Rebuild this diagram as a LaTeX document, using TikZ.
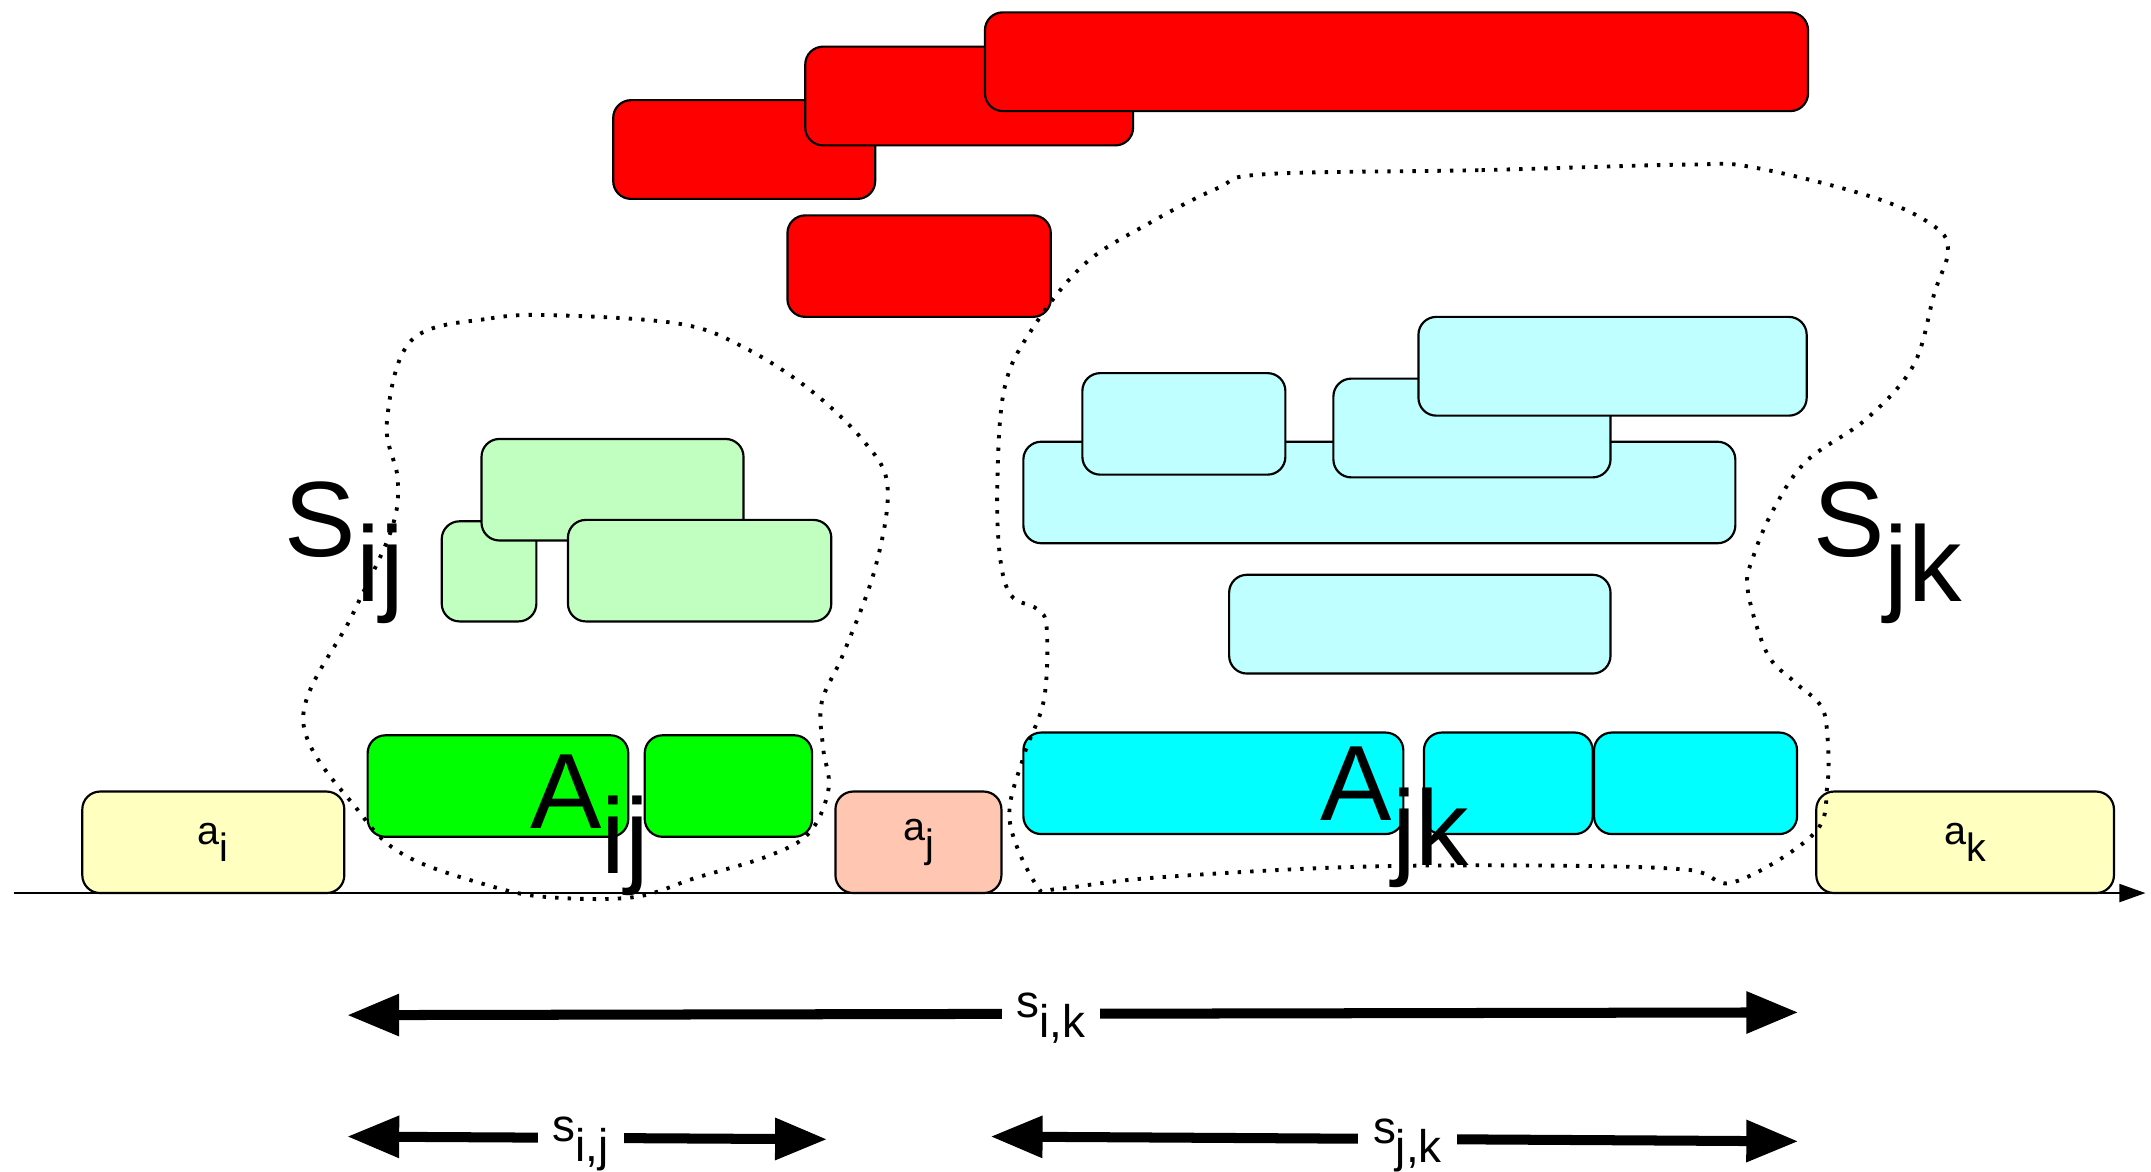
\documentclass[tikz,border=0pt]{standalone}
\usepackage{fontspec}
\setmainfont{Liberation Sans}
\usepackage{tikz}
\usetikzlibrary{arrows.meta, calc}

\definecolor{jobred}{RGB}{255,0,0}
\definecolor{jobgreen}{RGB}{0,255,0}
\definecolor{jobcyan}{RGB}{0,255,255}
\definecolor{palegreen}{RGB}{192,255,192}
\definecolor{palecyan}{RGB}{192,255,255}
\definecolor{paleyellow}{RGB}{255,255,192}
\definecolor{jobsalmon}{RGB}{255,198,178}

\tikzset{
	job/.style={draw=black, line width=0.45pt, rounded corners=1.3mm},
	region/.style={line width=0.8pt, dash pattern=on 0.7pt off 1.9pt},
	span/.style={line width=0.73mm, {Triangle[length=3.8mm, width=2.9mm]}-{Triangle[length=3.8mm, width=2.9mm]}},
	spanlab/.style={fill=white, inner xsep=1.1mm, inner ysep=0.5mm, anchor=base, yshift=-0.3mm, font=\fontsize{9.5}{11}\selectfont},
	smalllab/.style={inner sep=0pt, font=\fontsize{8.2}{10}\selectfont},
	biglab/.style={inner sep=0pt, anchor=base west, font=\fontsize{22.2}{26}\selectfont}
}

\providecommand{\Job}[4]{%
  % name the corners
  \coordinate(#1) at (#2);
  \coordinate(#1e) at (#3);
  \filldraw[job, fill=#4] (#1) rectangle (#1e);
}
\newcommand{\sublab}[2]{#1\raisebox{-0.42em}{#2}}

\begin{document}
\begin{tikzpicture}[x=0.1mm, y=-0.1mm]

	\fill[white] (0,0) rectangle (1568,854);
	\useasboundingbox (0,0) rectangle (1568,854);

	% red bars
	\Job{R1}{447,73}{638,145}{jobred}
	\Job{R2}{587,34}{826,106}{jobred}
	\Job{R3}{718,9}{1318,81}{jobred}
	\Job{R4}{574,157}{766,231}{jobred}

	% S_ij
	\Job{LGb}{322,380}{391,453}{palegreen}
	\Job{LGa}{351,320}{542,394}{palegreen}
	\Job{LGc}{414,379}{606,453}{palegreen}
	\Job{Ga}{268,536}{458,610}{jobgreen}
	\Job{Gb}{470,536}{592,610}{jobgreen}

	% S_jk
	\Job{LCa}{746,322}{1265,396}{palecyan}
	\Job{LCb}{789,272}{937,346}{palecyan}
	\Job{LCc}{972,276}{1174,348}{palecyan}
	\Job{LCd}{1034,231}{1317,303}{palecyan}
	\Job{LCe}{896,419}{1174,491}{palecyan}
	\Job{Ca}{746,534}{1023,608}{jobcyan}
	\Job{Cb}{1038,534}{1161,608}{jobcyan}
	\Job{Cc}{1162,534}{1310,608}{jobcyan}

	\Job{ai}{60,577}{251,651}{paleyellow}
	\Job{aj}{609,577}{730,651}{jobsalmon}
	\Job{ak}{1324,577}{1541,651}{paleyellow}

	\node[smalllab] (ai-lab) at ($(ai)!0.5!(aie)$) {\sublab{a}{i}};
	\node[smalllab] (aj-lab) at ($(aj)!0.5!(aje)$) {\sublab{a}{j}};
	\node[smalllab] (ak-lab) at ($(ak)!0.5!(ake)$) {\sublab{a}{k}};

	% time axis
	\coordinate (T0) at (10,651);
	\coordinate (T1) at (1564,651);
	\draw[line width=0.5pt, -{Triangle[length=1.9mm, width=1.3mm]}] (T0) -- (T1);

	\node[biglab] (Sij) at (207,406) {\sublab{S}{ij}};
	\node[biglab] (Sjk) at (1321,406) {\sublab{S}{jk}};
	\node[biglab] (Aij) at (386,604) {\sublab{A}{ij}};
	\node[biglab] (Ajk) at (962,598) {\sublab{A}{jk}};

	\draw[region] plot[smooth cycle, tension=0.6] coordinates {(300,248) (358,232) (410,230) (495,236) (540,252) (589,283) (630,322) (647,355) (638,414) (615,476) (599,512) (600,545) (604,575) (590,607) (560,624) (507,640) (462,654) (400,654) (358,646) (296,624) (262,592) (221,525) (257,448) (285,387) (290,350) (282,308)};
	\draw[region] plot[smooth cycle, tension=0.6] coordinates {(922,127) (1080,124) (1229,120) (1278,122) (1366,144) (1410,165) (1420,183) (1410,214) (1395,266) (1361,305) (1317,336) (1293,371) (1278,406) (1274,430) (1288,476) (1308,497) (1327,514) (1332,535) (1332,573) (1322,608) (1264,643) (1230,634) (1132,631) (985,632) (839,640) (771,648) (756,646) (736,598) (746,552) (761,510) (763,458) (756,444) (737,434) (729,406) (727,354) (732,284) (751,242) (790,193) (839,162) (888,137)};

	% spans
	\coordinate (SikL) at (253,740);
	\coordinate (SikR) at (1311,738);
	\coordinate (SijL) at (253,828.5);
	\coordinate (SijR) at (603,830.5);
	\coordinate (SjkL) at (722,828.5);
	\coordinate (SjkR) at (1311,832);

	\draw[span] (SikL) -- node[spanlab, pos=0.485] (sik) {\sublab{s}{i,k}} (SikR);
	\draw[span] (SijL) -- node[spanlab, pos=0.487] (sij) {\sublab{s}{i,j}} (SijR);
	\draw[span] (SjkL) -- node[spanlab, pos=0.516] (sjk) {\sublab{s}{j,k}} (SjkR);

\end{tikzpicture}
\end{document}
